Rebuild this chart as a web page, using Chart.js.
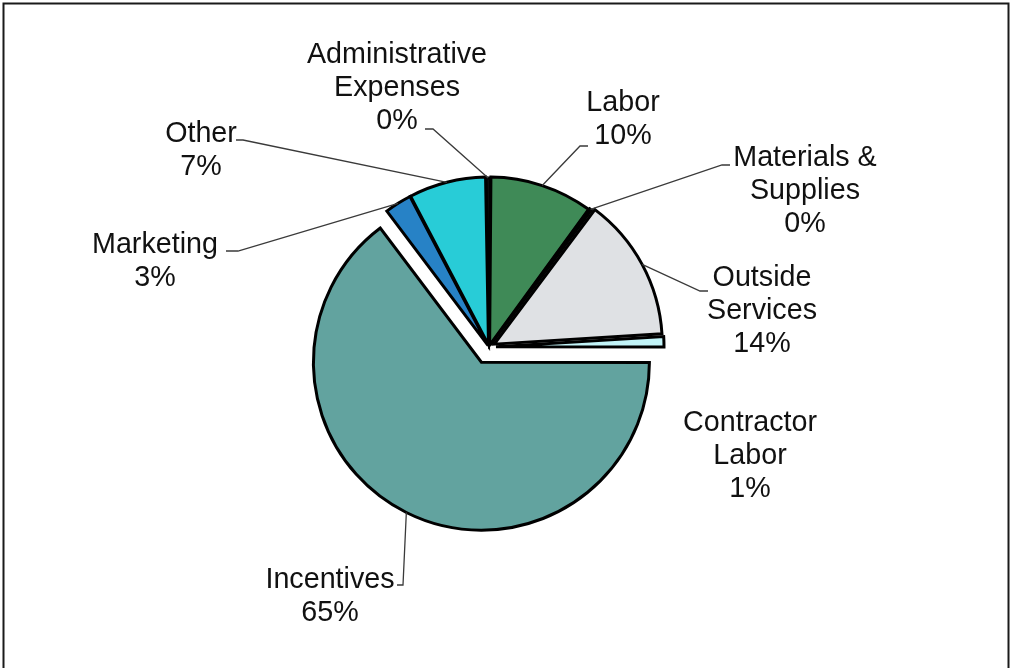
<!DOCTYPE html>
<html>
<head>
<meta charset="utf-8">
<script src="https://cdn.jsdelivr.net/npm/chart.js@4/dist/chart.umd.min.js"></script>
<style>
  html, body { margin: 0; padding: 0; background: #ffffff; }
  canvas { display: block; }
</style>
</head>
<body>
<canvas id="pie" width="1013" height="668"></canvas>
<script>
// Expense categories, clockwise from the top (multi-line names)
const categories = [
  ['Administrative', 'Expenses'],
  ['Labor'],
  ['Materials &', 'Supplies'],
  ['Outside', 'Services'],
  ['Contractor', 'Labor'],
  ['Incentives'],
  ['Marketing'],
  ['Other']
];

// Share of total spending (percent)
const shares = [0.4, 9.9, 0.2, 13.8, 1.0, 64.7, 2.6, 7.4];

// Slice fills
const sliceColors = ['#111111', '#3f8a57', '#6f7378', '#dfe1e4', '#c2f4f8', '#62a39f', '#2782c6', '#28ccd7'];

// How far each slice is pulled out from the centre (px)
const explode = [1, 2, 3, 6, 7, 17, 2, 2];

// Label placement: centre x, first baseline y, optional leader polyline end points
const labelLayout = [
  { x: 397, y: 63,  leader: [[433, 129], [425, 129]] },
  { x: 623, y: 111, leader: [[580, 146], [588, 146]] },
  { x: 805, y: 166, leader: [[722, 165], [730, 165]] },
  { x: 762, y: 286, leader: [[700, 291], [708, 291]] },
  { x: 750, y: 431, leader: null },
  { x: 330, y: 588, leader: [[403, 585], [397, 585]] },
  { x: 155, y: 253, leader: [[238, 251], [226, 251]] },
  { x: 201, y: 142, leader: [[243, 140], [236, 140]] }
];

const FONT = '28.7px "Liberation Sans", Arial, sans-serif';
const LINE_H = 33;

const total = shares.reduce((a, b) => a + b, 0);

// Draws each slice shifted outward along its bisector
const explodePlugin = {
  id: 'explodeSlices',
  beforeDatasetDraw(chart, args) {
    const ctx = chart.ctx;
    args.meta.data.forEach((arc, i) => {
      const { startAngle, endAngle } = arc.getProps(['startAngle', 'endAngle'], true);
      const mid = (startAngle + endAngle) / 2;
      const d = explode[i] || 0;
      ctx.save();
      ctx.translate(Math.cos(mid) * d, Math.sin(mid) * d);
      arc.draw(ctx, chart.chartArea);
      ctx.restore();
    });
    return false;
  }
};

// Frame, leader lines and category / percent labels
const labelPlugin = {
  id: 'sliceLabels',
  beforeDraw(chart) {
    const ctx = chart.ctx;
    ctx.save();
    ctx.fillStyle = '#ffffff';
    ctx.fillRect(0, 0, chart.width, chart.height);
    ctx.restore();
  },
  afterDatasetsDraw(chart) {
    const ctx = chart.ctx;
    const meta = chart.getDatasetMeta(0);
    ctx.save();
    ctx.strokeStyle = '#1a1a1a';
    ctx.lineWidth = 2;
    ctx.strokeRect(3.5, 3.5, 1005, 720);

    meta.data.forEach((arc, i) => {
      const p = arc.getProps(['x', 'y', 'startAngle', 'endAngle', 'outerRadius'], true);
      const mid = (p.startAngle + p.endAngle) / 2;
      const d = explode[i] || 0;
      const lay = labelLayout[i];
      if (lay.leader) {
        const sx = p.x + Math.cos(mid) * (p.outerRadius + d);
        const sy = p.y + Math.sin(mid) * (p.outerRadius + d);
        ctx.beginPath();
        ctx.moveTo(sx, sy);
        lay.leader.forEach(pt => ctx.lineTo(pt[0], pt[1]));
        ctx.strokeStyle = '#3a3a3a';
        ctx.lineWidth = 1.3;
        ctx.stroke();
      }
      const lines = chart.data.labels[i].slice();
      lines.push(Math.round(shares[i] / total * 100) + '%');
      ctx.font = FONT;
      ctx.fillStyle = '#111111';
      ctx.textAlign = 'center';
      ctx.textBaseline = 'alphabetic';
      lines.forEach((t, k) => ctx.fillText(t, lay.x, lay.y + k * LINE_H));
    });
    ctx.restore();
  }
};

new Chart(document.getElementById('pie'), {
  type: 'pie',
  data: {
    labels: categories,
    datasets: [{
      data: shares,
      backgroundColor: sliceColors,
      borderColor: '#000000',
      borderWidth: 3,
      borderJoinStyle: 'miter'
    }]
  },
  options: {
    responsive: false,
    animation: false,
    devicePixelRatio: 1,
    events: [],
    rotation: -1,
    radius: 168,
    layout: { padding: { left: 0, right: 35, top: 26, bottom: 0 } },
    plugins: {
      legend: { display: false },
      tooltip: { enabled: false }
    }
  },
  plugins: [explodePlugin, labelPlugin]
});
</script>
</body>
</html>
